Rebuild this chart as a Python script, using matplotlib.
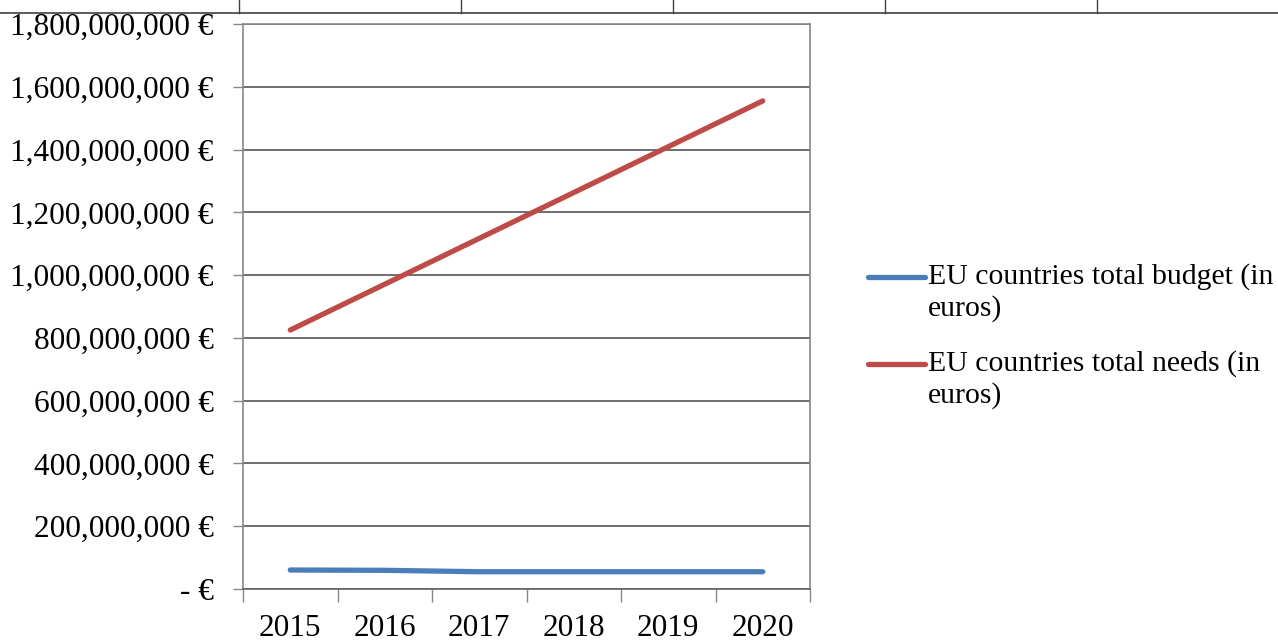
import matplotlib
matplotlib.use("Agg")
import matplotlib.pyplot as plt
from matplotlib.lines import Line2D
from matplotlib.ticker import FuncFormatter, FixedLocator

# ---- data ----
years = ["2015", "2016", "2017", "2018", "2019", "2020"]
budget = [60.5e6, 59.5e6, 55e6, 55e6, 55e6, 55e6]
needs = [825e6, 971e6, 1117e6, 1263e6, 1409e6, 1555e6]
series_labels = ["EU countries total budget (in\neuros)",
                 "EU countries total needs (in\neuros)"]
colors = ["#4A7EBB", "#BE4B48"]
yticks = [0, 2e8, 4e8, 6e8, 8e8, 1e9, 1.2e9, 1.4e9, 1.6e9, 1.8e9]

W, H = 1278, 640
FONT = "Liberation Serif"
plt.rcParams['font.family'] = [FONT, 'DejaVu Serif']

fig = plt.figure(figsize=(W / 100, H / 100), dpi=100)

# table border lines at top of page
fig.add_artist(Line2D([0, 1], [1 - 13 / H, 1 - 13 / H], color="#404040", lw=1.2))
for vx in [239, 461, 673, 885, 1097]:
    fig.add_artist(Line2D([vx / W, vx / W], [1 - 13 / H, 1], color="#404040", lw=1.0))

ax = fig.add_axes([243 / W, 1 - 589 / H, (810 - 243) / W, (589 - 24) / H])
x = list(range(len(years)))
for vals, c in zip([budget, needs], colors):
    ax.plot(x, vals, color=c, lw=3.8, solid_capstyle='round', zorder=3)

ax.set_xlim(-0.5, len(years) - 0.5)
ax.set_ylim(0, 1.8e9)

ax.set_yticks(yticks)
ax.yaxis.set_major_formatter(FuncFormatter(
    lambda v, p: "- €" if v == 0 else f"{v:,.0f} €"))
ax.grid(axis='y', color="#555555", lw=1.2)
ax.set_axisbelow(True)

ax.set_xticks(x)
ax.set_xticklabels(years)
ax.xaxis.set_minor_locator(FixedLocator([i - 0.5 for i in range(len(years) + 1)]))
ax.tick_params(axis='x', which='major', length=0, pad=18, labelsize=22.5)
ax.tick_params(axis='x', which='minor', length=9, width=1, color="#888888")
ax.tick_params(axis='y', length=7, width=1, color="#888888", pad=14, labelsize=22.5)

for s in ['left', 'right', 'top']:
    ax.spines[s].set_color("#888888")
    ax.spines[s].set_linewidth(1.2)
ax.spines['bottom'].set_color("#666666")
ax.spines['bottom'].set_linewidth(1.2)

# legend (manual, line aligned to first text line)
leg_y = [277, 364]
for lab, c, ly in zip(series_labels, colors, leg_y):
    fig.add_artist(Line2D([868 / W, 925 / W], [1 - ly / H, 1 - ly / H],
                          color=c, lw=3.8, solid_capstyle='round'))
    fig.text(928 / W, 1 - (ly - 14) / H, lab, fontsize=21.4, va='top', ha='left',
             linespacing=1.25)

fig.savefig("out.png", dpi=100)
